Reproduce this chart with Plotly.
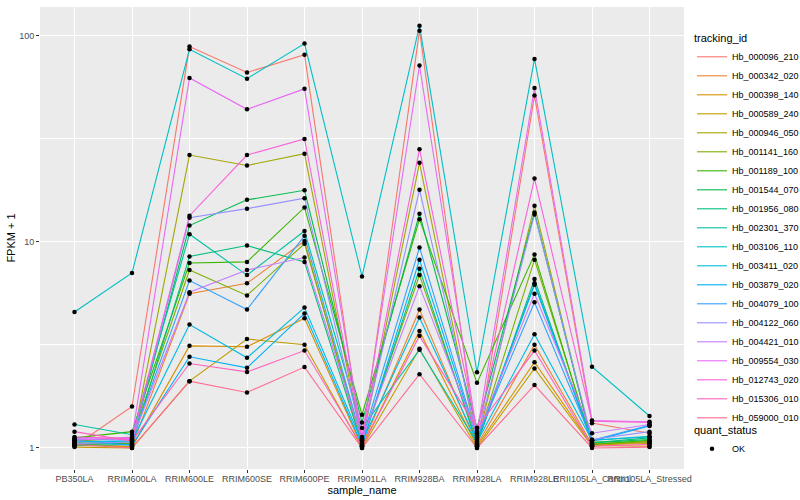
import plotly.graph_objects as go

samples = ["PB350LA", "RRIM600LA", "RRIM600LE", "RRIM600SE", "RRIM600PE", "RRIM901LA",
           "RRIM928BA", "RRIM928LA", "RRIM928LE", "RRII105LA_Control", "RRII105LA_Stressed"]

tracking_ids = ["Hb_000096_210", "Hb_000342_020", "Hb_000398_140", "Hb_000589_240",
                "Hb_000946_050", "Hb_001141_160", "Hb_001189_100", "Hb_001544_070",
                "Hb_001956_080", "Hb_002301_370", "Hb_003106_110", "Hb_003411_020",
                "Hb_003879_020", "Hb_004079_100", "Hb_004122_060", "Hb_004421_010",
                "Hb_009554_030", "Hb_012743_020", "Hb_015306_010", "Hb_059000_010"]

colors = ["#F8766D", "#EA8331", "#D89000", "#C09B00", "#A3A500", "#7CAE00", "#39B600",
          "#00BB4E", "#00BF7D", "#00C1A3", "#00BFC4", "#00BAE0", "#00B0F6", "#35A2FF",
          "#9590FF", "#C77CFF", "#E76BF3", "#FA62DB", "#FF62BC", "#FF6C91"]

fpkm_000096_210 = [1.02, 1.59, 88.7, 66.4, 81.0, 1.05, 106, 1.02, 51.3, 1.32, 1.18]
fpkm_000342_020 = [1.03, 1.02, 5.6, 6.3, 10.1, 1.02, 4.7, 1.03, 3.17, 1.04, 1.05]
fpkm_000398_140 = [1.05, 1.01, 3.13, 3.1, 4.26, 1.01, 3.7, 1.02, 2.61, 1.03, 1.02]
fpkm_000589_240 = [1.01, 1.00, 2.11, 3.38, 3.17, 1.00, 3.03, 1.00, 2.43, 1.02, 1.08]
fpkm_000946_050 = [1.06, 1.05, 26.4, 23.5, 26.8, 1.06, 24.2, 1.05, 15.0, 1.05, 1.06]
fpkm_001141_160 = [1.08, 1.12, 7.3, 5.5, 9.8, 1.08, 6.9, 1.08, 8.2, 1.07, 1.07]
fpkm_001189_100 = [1.12, 1.20, 7.9, 8.0, 14.7, 1.45, 12.9, 2.07, 8.7, 1.04, 1.09]
fpkm_001544_070 = [1.04, 1.06, 12.0, 16.0, 17.8, 1.33, 13.7, 1.25, 13.9, 1.06, 1.10]
fpkm_001956_080 = [1.03, 1.04, 8.5, 9.6, 8.0, 1.04, 7.4, 1.04, 6.6, 1.06, 1.12]
fpkm_002301_370 = [1.30, 1.16, 10.9, 6.9, 11.3, 1.25, 3.0, 1.06, 6.3, 1.09, 1.13]
fpkm_003106_110 = [4.57, 7.07, 86.0, 62.0, 91.8, 6.8, 112, 2.33, 77.3, 2.48, 1.43]
fpkm_003411_020 = [1.07, 1.08, 3.97, 2.74, 4.8, 1.07, 4.3, 1.07, 3.56, 1.09, 1.14]
fpkm_003879_020 = [1.09, 1.03, 2.77, 2.45, 4.5, 1.03, 8.2, 1.10, 6.2, 1.08, 1.28]
fpkm_004079_100 = [1.10, 1.09, 6.5, 4.7, 10.7, 1.09, 9.4, 1.12, 5.1, 1.09, 1.29]
fpkm_004122_060 = [1.05, 1.07, 13.1, 14.5, 16.3, 1.12, 17.9, 1.13, 13.6, 1.10, 1.20]
fpkm_004421_010 = [1.11, 1.10, 5.7, 7.3, 8.4, 1.10, 6.1, 1.15, 5.6, 1.18, 1.30]
fpkm_009554_030 = [1.09, 1.13, 62.5, 44.0, 55.3, 1.13, 71.8, 1.18, 55.9, 1.36, 1.34]
fpkm_012743_020 = [1.13, 1.11, 13.4, 26.4, 31.6, 1.11, 28.2, 1.20, 20.3, 1.35, 1.33]
fpkm_015306_010 = [1.20, 1.08, 2.57, 2.34, 2.97, 1.02, 3.5, 1.25, 2.97, 1.02, 1.04]
fpkm_059000_010 = [1.04, 1.00, 2.11, 1.86, 2.47, 1.00, 2.28, 1.00, 2.02, 1.00, 1.01]

series = [fpkm_000096_210, fpkm_000342_020, fpkm_000398_140, fpkm_000589_240,
          fpkm_000946_050, fpkm_001141_160, fpkm_001189_100, fpkm_001544_070,
          fpkm_001956_080, fpkm_002301_370, fpkm_003106_110, fpkm_003411_020,
          fpkm_003879_020, fpkm_004079_100, fpkm_004122_060, fpkm_004421_010,
          fpkm_009554_030, fpkm_012743_020, fpkm_015306_010, fpkm_059000_010]

FONT = "Liberation Sans, Arial, sans-serif"

fig = go.Figure()
for name, col, vals in zip(tracking_ids, colors, series):
    fig.add_trace(go.Scatter(x=samples, y=vals, mode="lines", name=name,
                             line=dict(color=col, width=1.1), legend="legend"))

all_x = [s for vals in series for s in samples]
all_y = [v for vals in series for v in vals]
fig.add_trace(go.Scatter(x=all_x, y=all_y, mode="markers", name="OK",
                         marker=dict(color="black", size=4.5), legend="legend2"))

fig.update_layout(
    width=800, height=500,
    margin=dict(l=40, r=116, t=7, b=31, autoexpand=False),
    paper_bgcolor="white", plot_bgcolor="#EBEBEB",
    font=dict(family=FONT, color="#000000"),
    xaxis=dict(
        type="category", categoryorder="array", categoryarray=samples,
        range=[-0.6, len(samples) - 0.4], automargin=False,
        showgrid=True, gridcolor="white", gridwidth=1.1,
        ticks="outside", ticklen=3, tickcolor="#333333", tickwidth=1,
        tickangle=0, tickfont=dict(size=9, color="#4D4D4D"),
        ticklabelstandoff=-2,
        title=dict(text="sample_name", font=dict(size=11), standoff=0),
        zeroline=False, showline=False,
    ),
    yaxis=dict(
        type="log", range=[-0.102, 2.14], automargin=False,
        tickvals=[1, 10, 100], ticktext=["1", "10", "100"],
        showgrid=True, gridcolor="white", gridwidth=1.1,
        minor=dict(tickvals=[3.1623, 31.623], showgrid=True, gridcolor="white", gridwidth=0.5, ticks=""),
        ticks="outside", ticklen=3, tickcolor="#333333", tickwidth=1,
        tickfont=dict(size=9, color="#4D4D4D"),
        title=dict(text="FPKM + 1", font=dict(size=11), standoff=1),
        zeroline=False, showline=False,
    ),
    legend=dict(
        xref="container", yref="container", x=692 / 800, y=1 - 28 / 500,
        xanchor="left", yanchor="top",
        title=dict(text="tracking_id", font=dict(size=11)),
        font=dict(size=9), itemwidth=30, tracegroupgap=0,
        bgcolor="rgba(0,0,0,0)", maxheight=480,
    ),
    legend2=dict(
        xref="container", yref="container", x=692 / 800, y=1 - 420 / 500,
        xanchor="left", yanchor="top",
        title=dict(text="quant_status", font=dict(size=11)),
        font=dict(size=9), itemwidth=30,
        bgcolor="rgba(0,0,0,0)",
    ),
)

fig.write_html("out.html", config={"displayModeBar": False},
               post_script="document.body.style.margin='0';document.body.style.overflow='hidden';")
